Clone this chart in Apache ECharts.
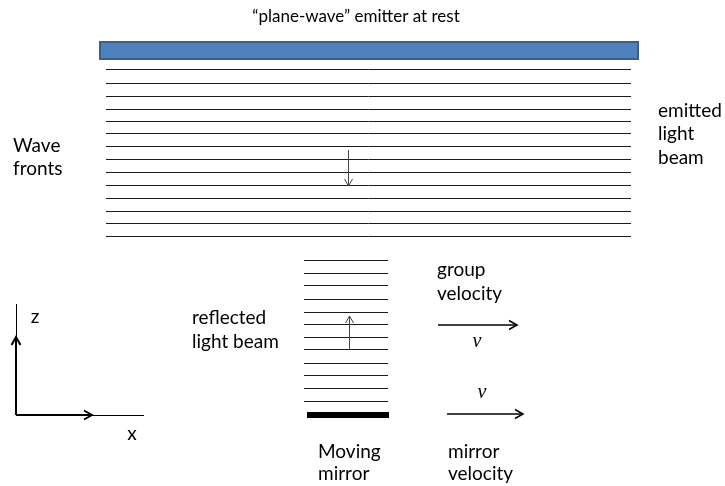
<!DOCTYPE html>
<html><head><meta charset="utf-8">
<script src="https://cdn.jsdelivr.net/npm/echarts@6/dist/echarts.min.js"></script>
<style>html,body{margin:0;padding:0;background:#fff}#c{width:725px;height:486px}</style>
</head><body><div id="c"></div>
<script>
// Diagram geometry (diagram units = reference pixels)
const emitterBar = [[100, 42, 638, 59]];
const emittedFrontY = [69, 83, 96, 109, 121, 133, 146, 159, 172, 185, 198, 211, 223, 236];
const emittedFrontX = [106, 631];
const reflectedFrontY = [260, 273, 285, 299, 312, 324, 337, 349, 363, 375, 388, 401];
const reflectedFrontX = [304, 388];
const mirrorBar = [[307, 412, 389, 418]];
const thinArrows = [[348, 150, 348, 186], [349, 349, 349, 316]];
const velocityArrows = [[438, 325, 517, 325], [447, 414, 523, 414]];
const axisArrows = [[16, 415, 16, 337], [16, 415, 92, 415]];
const axisExtensions = [[16, 337, 16, 304], [92, 415, 144, 415]];

const labels = [
  ['Wave', 13, 146, 'left'], ['fronts', 13, 169, 'left'],
  ['emitted', 658, 111, 'left'], ['light', 658, 134, 'left'], ['beam', 658, 158, 'left'],
  ['group', 437, 270, 'left'], ['velocity', 437, 294, 'left'],
  ['reflected', 192, 318, 'left'], ['light beam', 192, 342, 'left'],
  ['Moving', 318, 452, 'left'], ['mirror', 318, 474, 'left'],
  ['mirror', 448, 452, 'left'], ['velocity', 448, 474, 'left'],
  ['z', 35, 317, 'center'], ['x', 132, 434, 'center']
];
const titleLabel = ['\u201cplane-wave\u201d emitter at rest', 356, 17];
const mathLabels = [['v', 477, 342], ['v', 482, 393]];

const chart = echarts.init(document.getElementById('c'), null, {renderer: 'canvas'});

function rectItem(color, border, bw) {
  return function (params, api) {
    const p1 = api.coord([api.value(0), api.value(1)]);
    const p2 = api.coord([api.value(2), api.value(3)]);
    return {type: 'rect', shape: {x: p1[0], y: p1[1], width: p2[0] - p1[0], height: p2[1] - p1[1]},
      style: {fill: color, stroke: border, lineWidth: bw}};
  };
}
function crisp(v, w) {
  return (Math.round(w) % 2 === 1) ? Math.floor(v) + 0.5 : Math.round(v);
}
function lineItem(color, width, head) {
  return function (params, api) {
    const p1 = api.coord([api.value(0), api.value(1)]);
    const p2 = api.coord([api.value(2), api.value(3)]);
    if (p1[1] === p2[1]) { p1[1] = p2[1] = crisp(p1[1], width); }
    if (p1[0] === p2[0]) { p1[0] = p2[0] = crisp(p1[0], width); }
    const children = [{type: 'line', shape: {x1: p1[0], y1: p1[1], x2: p2[0], y2: p2[1]},
      style: {stroke: color, lineWidth: width}}];
    if (head) {
      const dx = p2[0] - p1[0], dy = p2[1] - p1[1];
      const len = Math.sqrt(dx * dx + dy * dy) || 1;
      const ux = dx / len, uy = dy / len, nx = -uy, ny = ux;
      const L = head[0], W = head[1];
      children.push({type: 'polyline', shape: {points: [
        [p2[0] - ux * L + nx * W, p2[1] - uy * L + ny * W], [p2[0], p2[1]],
        [p2[0] - ux * L - nx * W, p2[1] - uy * L - ny * W]]},
        style: {stroke: color, lineWidth: width, fill: null}});
    }
    return {type: 'group', children: children};
  };
}

const emittedFronts = emittedFrontY.map(y => [emittedFrontX[0], y, emittedFrontX[1], y]);
const reflectedFronts = reflectedFrontY.map(y => [reflectedFrontX[0], y, reflectedFrontX[1], y]);

const option = {
  animation: false,
  backgroundColor: '#fff',
  grid: {left: 0, right: 0, top: 0, bottom: 0},
  xAxis: {type: 'value', min: 0, max: 725, show: false},
  yAxis: {type: 'value', min: 0, max: 486, inverse: true, show: false},
  series: [
    {type: 'custom', name: 'emitter', clip: false, data: emitterBar, renderItem: rectItem('#4F81BD', '#3A5F8B', 2)},
    {type: 'custom', name: 'emitted fronts', clip: false, data: emittedFronts, renderItem: lineItem('#1a1a1a', 1, null)},
    {type: 'custom', name: 'reflected fronts', clip: false, data: reflectedFronts, renderItem: lineItem('#1a1a1a', 1, null)},
    {type: 'custom', name: 'mirror', clip: false, data: mirrorBar, renderItem: rectItem('#000', null, 0)},
    {type: 'custom', name: 'thin arrows', clip: false, data: thinArrows, renderItem: lineItem('#444', 1, [7, 4])},
    {type: 'custom', name: 'velocity arrows', clip: false, data: velocityArrows, renderItem: lineItem('#000', 1.5, [8, 4.5])},
    {type: 'custom', name: 'axis arrows', clip: false, data: axisArrows, renderItem: lineItem('#000', 2, [8, 4.5])},
    {type: 'custom', name: 'axis ext', clip: false, data: axisExtensions, renderItem: lineItem('#000', 1, null)}
  ],
  graphic: [{
    type: 'text', x: titleLabel[1], y: titleLabel[2], silent: true,
    style: {text: titleLabel[0], fill: '#000', font: '17px Lato', align: 'center', verticalAlign: 'middle'}
  }].concat(labels.map(l => ({
    type: 'text', x: l[1], y: l[2], silent: true,
    style: {text: l[0], fill: '#000', font: '19px Lato', align: l[3], verticalAlign: 'middle'}
  }))).concat(mathLabels.map(l => ({
    type: 'text', x: l[1], y: l[2], silent: true,
    style: {text: l[0], fill: '#000', font: 'italic 20px "Liberation Serif"', align: 'center', verticalAlign: 'middle'}
  })))
};
chart.setOption(option);
</script></body></html>
